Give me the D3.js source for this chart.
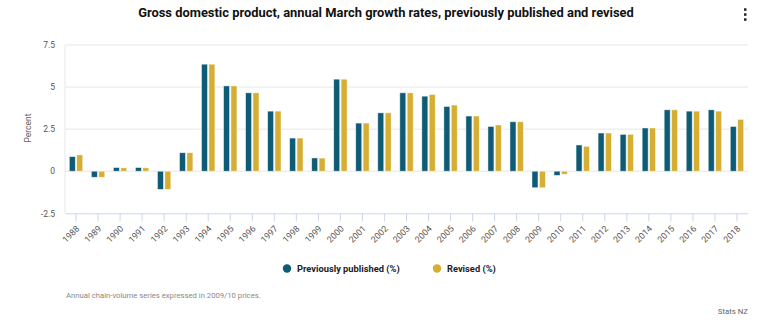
<!DOCTYPE html>
<html>
<head>
<meta charset="utf-8">
<script src="https://cdn.jsdelivr.net/npm/d3@7"></script>
<style>
  body { margin: 0; background: #fff; }
  svg { display: block; font-family: Roboto, "Noto Sans", sans-serif; }
</style>
</head>
<body>
<script>
// years on the x axis
const years = ["1988","1989","1990","1991","1992","1993","1994","1995","1996","1997",
  "1998","1999","2000","2001","2002","2003","2004","2005","2006","2007","2008","2009",
  "2010","2011","2012","2013","2014","2015","2016","2017","2018"];

// previously published growth (%)
const published = [0.87,-0.36,0.22,0.22,-1.08,1.1,6.36,5.07,4.66,3.57,1.97,0.79,5.47,2.86,3.47,
  4.66,4.46,3.85,3.28,2.66,2.94,-0.98,-0.25,1.56,2.27,2.19,2.57,3.65,3.57,3.65,2.66];

// revised growth (%)
const revised = [0.97,-0.36,0.2,0.2,-1.08,1.1,6.36,5.07,4.66,3.57,1.97,0.78,5.47,2.86,3.47,
  4.66,4.56,3.93,3.28,2.75,2.94,-0.98,-0.18,1.48,2.27,2.19,2.57,3.65,3.57,3.57,3.08];

const yTicks = [-2.5, 0, 2.5, 5, 7.5];
const seriesNames = ["Previously published (%)", "Revised (%)"];
const colors = ["#0d5b75", "#d5ae33"];

const W = 775, H = 328;
const plot = {left: 65, right: 748, top: 45, bottom: 213.3};

const svg = d3.select("body").append("svg")
  .attr("width", W).attr("height", H);

// title
svg.append("text")
  .attr("x", 386).attr("y", 17)
  .attr("text-anchor", "middle")
  .attr("font-size", 12.9).attr("font-weight", 700)
  .attr("fill", "#111")
  .text("Gross domestic product, annual March growth rates, previously published and revised");

// menu dots
svg.selectAll(".dot").data([9.5, 14.5, 19.5]).enter()
  .append("rect")
  .attr("x", 744).attr("y", d => d - 1.2)
  .attr("width", 2.5).attr("height", 2.5)
  .attr("fill", "#222");

const x = d3.scaleBand().domain(years).range([plot.left, plot.right]);
const y = d3.scaleLinear().domain([-2.5, 7.5]).range([plot.bottom, plot.top]);

// gridlines
svg.append("g").selectAll("line").data(yTicks.filter(t => t > -2.5)).enter()
  .append("line")
  .attr("x1", plot.left).attr("x2", plot.right)
  .attr("y1", d => y(d)).attr("y2", d => y(d))
  .attr("stroke", "#e6e6e6").attr("stroke-width", 1);

// left edge line
svg.append("line")
  .attr("x1", plot.left).attr("x2", plot.left)
  .attr("y1", plot.top).attr("y2", plot.bottom)
  .attr("stroke", "#e6e6e6");

// y axis labels
const yAxis = svg.append("g")
  .attr("transform", `translate(${plot.left - 10},0)`)
  .call(d3.axisLeft(y).tickValues(yTicks).tickSize(0).tickFormat(d => d));
yAxis.select(".domain").remove();
yAxis.selectAll("text")
  .attr("x", 0)
  .attr("font-family", "Roboto, sans-serif")
  .attr("font-size", 8.5).attr("fill", "#555");

svg.append("text")
  .attr("transform", `translate(31,128) rotate(-90)`)
  .attr("text-anchor", "middle")
  .attr("font-size", 8.5).attr("fill", "#6a5c55")
  .text("Percent");

// x axis
const xAxis = svg.append("g")
  .attr("transform", `translate(0,${plot.bottom})`)
  .call(d3.axisBottom(x).tickSize(8).tickSizeOuter(0));
xAxis.select(".domain").attr("stroke", "#ccd6eb");
xAxis.selectAll(".tick line").attr("stroke", "#ccd6eb");
xAxis.selectAll("text")
  .attr("font-family", "Roboto, sans-serif")
  .attr("font-size", 8.8).attr("fill", "#555")
  .attr("text-anchor", "end")
  .attr("y", 0).attr("dy", 0)
  .attr("transform", "translate(4,16) rotate(-45)");

// bars
const barW = 6, gap = 1.4;
[published, revised].forEach((vals, si) => {
  svg.append("g").selectAll("rect").data(vals).enter()
    .append("rect")
    .attr("x", (d, i) => x(years[i]) + x.bandwidth() / 2 + (si === 0 ? -barW - gap / 2 : gap / 2))
    .attr("y", d => y(Math.max(0, d)))
    .attr("width", barW)
    .attr("height", d => Math.abs(y(d) - y(0)))
    .attr("fill", colors[si])
    .attr("stroke", "rgba(255,255,255,0.6)").attr("stroke-width", 0.8);
});

// legend
const legendX = [287, 437];
seriesNames.forEach((name, i) => {
  svg.append("circle")
    .attr("cx", legendX[i]).attr("cy", 268.5).attr("r", 4.2)
    .attr("fill", colors[i]);
  svg.append("text")
    .attr("x", legendX[i] + 10).attr("y", 272)
    .attr("font-size", 9.3).attr("font-weight", 700)
    .attr("fill", "#222")
    .text(name);
});

// footnote and credit
svg.append("text")
  .attr("x", 66).attr("y", 298)
  .attr("font-size", 7.7).attr("fill", "#888")
  .text("Annual chain-volume series expressed in 2009/10 prices.");

svg.append("text")
  .attr("x", 748).attr("y", 314)
  .attr("text-anchor", "end")
  .attr("font-size", 7.8).attr("fill", "#666")
  .text("Stats NZ");
</script>
</body>
</html>
